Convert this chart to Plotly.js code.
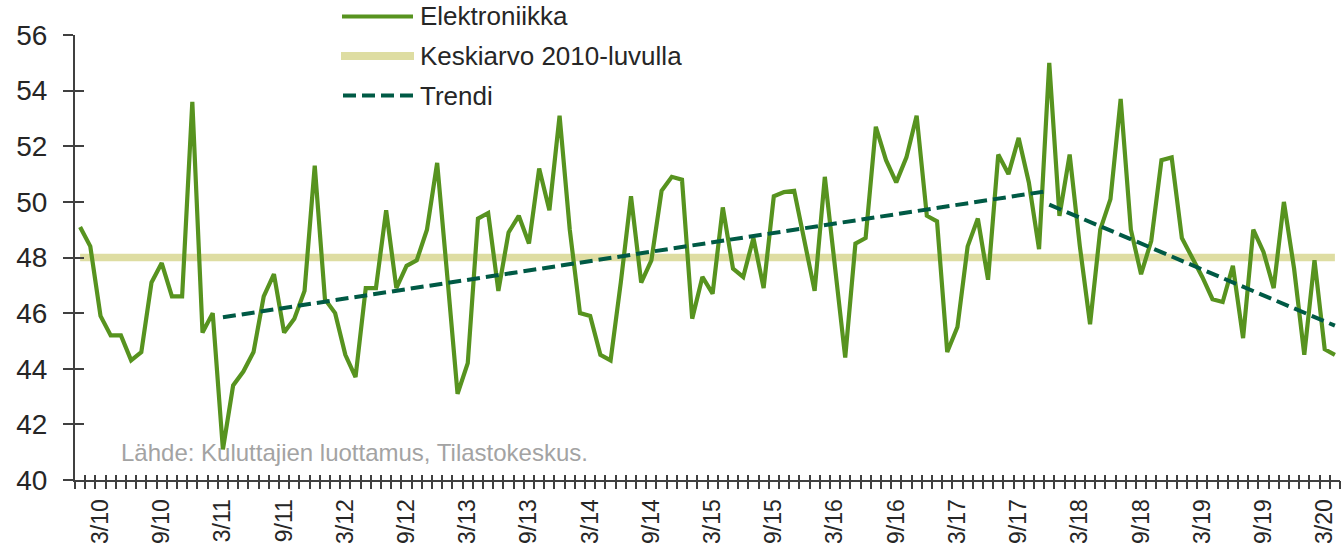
<!DOCTYPE html>
<html>
<head>
<meta charset="utf-8">
<script src="https://cdn.plot.ly/plotly-3.0.1.min.js"></script>
<style>
  html, body { margin: 0; padding: 0; background: #ffffff; }
  #chart { width: 1342px; height: 543px; }
</style>
</head>
<body>
<div id="chart"></div>
<script>
// ---- Data ----
const MONTHS = [
  "1/10","2/10","3/10","4/10","5/10","6/10","7/10","8/10","9/10","10/10","11/10","12/10",
  "1/11","2/11","3/11","4/11","5/11","6/11","7/11","8/11","9/11","10/11","11/11","12/11",
  "1/12","2/12","3/12","4/12","5/12","6/12","7/12","8/12","9/12","10/12","11/12","12/12",
  "1/13","2/13","3/13","4/13","5/13","6/13","7/13","8/13","9/13","10/13","11/13","12/13",
  "1/14","2/14","3/14","4/14","5/14","6/14","7/14","8/14","9/14","10/14","11/14","12/14",
  "1/15","2/15","3/15","4/15","5/15","6/15","7/15","8/15","9/15","10/15","11/15","12/15",
  "1/16","2/16","3/16","4/16","5/16","6/16","7/16","8/16","9/16","10/16","11/16","12/16",
  "1/17","2/17","3/17","4/17","5/17","6/17","7/17","8/17","9/17","10/17","11/17","12/17",
  "1/18","2/18","3/18","4/18","5/18","6/18","7/18","8/18","9/18","10/18","11/18","12/18",
  "1/19","2/19","3/19","4/19","5/19","6/19","7/19","8/19","9/19","10/19","11/19","12/19",
  "1/20","2/20","3/20","4/20"
];

const ELEKTRONIIKKA = [
  49.1, 48.4, 45.9, 45.2, 45.2, 44.3, 44.6, 47.1, 47.8, 46.6, 46.6, 53.6,
  45.3, 46.0, 41.1, 43.4, 43.9, 44.6, 46.6, 47.4, 45.3, 45.8, 46.8, 51.3,
  46.5, 46.0, 44.5, 43.7, 46.9, 46.9, 49.7, 46.9, 47.7, 47.9, 49.0, 51.4,
  47.3, 43.1, 44.2, 49.4, 49.6, 46.8, 48.9, 49.5, 48.5, 51.2, 49.7, 53.1,
  49.0, 46.0, 45.9, 44.5, 44.3, 47.1, 50.2, 47.1, 47.9, 50.4, 50.9, 50.8,
  45.8, 47.3, 46.7, 49.8, 47.6, 47.3, 48.7, 46.9, 50.2, 50.35, 50.4, 48.6,
  46.8, 50.9, 47.7, 44.4, 48.5, 48.7, 52.7, 51.5, 50.7, 51.6, 53.1, 49.5,
  49.3, 44.6, 45.5, 48.4, 49.4, 47.2, 51.7, 51.0, 52.3, 50.7, 48.3, 55.0,
  49.5, 51.7, 48.4, 45.6, 49.0, 50.1, 53.7, 49.0, 47.4, 48.6, 51.5, 51.6,
  48.7, 48.0, 47.3, 46.5, 46.4, 47.7, 45.1, 49.0, 48.2, 46.9, 50.0, 47.6,
  44.5, 47.9, 44.7, 44.5
];

// average of the 2010s, drawn across the whole period
const KESKIARVO_X = ["1/10", "4/20"];
const KESKIARVO_Y = [48.0, 48.0];

// two trend segments (end points)
const TREND1_X = ["3/11", "12/17"];
const TREND1_Y = [45.85, 50.4];
const TREND2_X = ["12/17", "4/20"];
const TREND2_Y = [49.9, 45.55];

const TICK_LABELS = ["3/10","9/10","3/11","9/11","3/12","9/12","3/13","9/13","3/14","9/14",
  "3/15","9/15","3/16","9/16","3/17","9/17","3/18","9/18","3/19","9/19","3/20"];

const SERIES_NAMES = ["Elektroniikka", "Keskiarvo 2010-luvulla", "Trendi"];
const SOURCE_TEXT = "Lähde: Kuluttajien luottamus, Tilastokeskus.";

// ---- Styling ----
const FONT = "Liberation Sans, Arial, sans-serif";
const C_GREEN = "#57931f";
const C_KHAKI = "#dedda2";
const C_TREND = "#005a45";
const C_AXIS = "#404040";
const C_TEXT = "#262626";

const M = { l: 75, r: 2, t: 35, b: 63 };
const W = 1342, H = 543;
const PW = W - M.l - M.r, PH = H - M.t - M.b;
const px2x = px => (px - M.l) / PW;
const px2y = py => (H - M.b - py) / PH;

const nCat = MONTHS.length;

const traces = [
  { x: KESKIARVO_X, y: KESKIARVO_Y, name: SERIES_NAMES[1], type: "scatter", mode: "lines",
    line: { color: C_KHAKI, width: 7.5 }, hoverinfo: "skip" },
  { x: MONTHS, y: ELEKTRONIIKKA, name: SERIES_NAMES[0], type: "scatter", mode: "lines",
    line: { color: C_GREEN, width: 4.2 } },
  { x: TREND1_X, y: TREND1_Y, name: SERIES_NAMES[2], type: "scatter", mode: "lines",
    line: { color: C_TREND, width: 4, dash: "13px,6px" }, hoverinfo: "skip" },
  { x: TREND2_X, y: TREND2_Y, name: SERIES_NAMES[2], type: "scatter", mode: "lines",
    line: { color: C_TREND, width: 4, dash: "13px,6px" }, hoverinfo: "skip" },
  // carriers for the crossing tick marks
  { x: [], y: [], xaxis: "x2", yaxis: "y", showlegend: false, hoverinfo: "skip" },
  { x: [], y: [], xaxis: "x3", yaxis: "y", showlegend: false, hoverinfo: "skip" },
  { x: [], y: [], xaxis: "x", yaxis: "y2", showlegend: false, hoverinfo: "skip" }
];

const tickAxisX = (side) => ({
  type: "linear", overlaying: "x", anchor: "y", side: "bottom",
  range: [-0.5, nCat - 0.5], autorange: false,
  tickmode: "linear", tick0: -0.5, dtick: 1,
  ticks: side, ticklen: side === "outside" ? 8 : 5, tickwidth: 2, tickcolor: C_AXIS,
  showticklabels: false, showgrid: false, zeroline: false, showline: false
});

const legendShapes = [
  { type: "line", xref: "paper", yref: "paper", x0: px2x(342), x1: px2x(413), y0: px2y(16.5), y1: px2y(16.5),
    line: { color: C_GREEN, width: 4 } },
  { type: "line", xref: "paper", yref: "paper", x0: px2x(341), x1: px2x(414), y0: px2y(56), y1: px2y(56),
    line: { color: C_KHAKI, width: 8 } },
  { type: "line", xref: "paper", yref: "paper", x0: px2x(343), x1: px2x(413), y0: px2y(95.5), y1: px2y(95.5),
    line: { color: C_TREND, width: 4, dash: "13px,6px" } }
];

const legendTexts = [16.5, 56, 95.5].map((py, i) => ({
  xref: "paper", yref: "paper", x: px2x(418), y: px2y(py), xanchor: "left", yanchor: "middle",
  text: SERIES_NAMES[i], showarrow: false, font: { family: FONT, size: 26, color: C_TEXT }
}));

const layout = {
  width: W, height: H,
  margin: M,
  paper_bgcolor: "#ffffff", plot_bgcolor: "#ffffff",
  showlegend: false,
  font: { family: FONT, color: C_TEXT },
  xaxis: {
    type: "category", categoryorder: "array", categoryarray: MONTHS,
    range: [-0.5, nCat - 0.5], autorange: false,
    tickmode: "array", tickvals: TICK_LABELS, ticktext: TICK_LABELS,
    tickangle: -90, ticks: "", ticklabelstandoff: 8,
    tickfont: { family: FONT, size: 23, color: C_TEXT },
    showline: true, linecolor: C_AXIS, linewidth: 2,
    showgrid: false, zeroline: false
  },
  xaxis2: tickAxisX("outside"),
  xaxis3: tickAxisX("inside"),
  yaxis: {
    range: [40, 56], autorange: false, tickmode: "linear", tick0: 40, dtick: 2,
    ticks: "outside", ticklen: 10, tickwidth: 2, tickcolor: C_AXIS,
    ticklabelstandoff: 10,
    tickfont: { family: FONT, size: 28, color: C_TEXT },
    showline: true, linecolor: C_AXIS, linewidth: 2,
    showgrid: false, zeroline: false
  },
  yaxis2: {
    overlaying: "y", anchor: "x", side: "left",
    range: [40, 56], autorange: false, tickmode: "linear", tick0: 40, dtick: 2,
    ticks: "inside", ticklen: 9, tickwidth: 2, tickcolor: C_AXIS,
    showticklabels: false, showgrid: false, zeroline: false, showline: false
  },
  shapes: legendShapes,
  annotations: legendTexts.concat([{
    xref: "paper", yref: "paper", x: px2x(119), y: px2y(452), xanchor: "left", yanchor: "middle",
    text: SOURCE_TEXT, showarrow: false, font: { family: FONT, size: 24, color: "#a3a3a3" }
  }])
};

Plotly.newPlot("chart", traces, layout, { displayModeBar: false, staticPlot: true });
</script>
</body>
</html>
